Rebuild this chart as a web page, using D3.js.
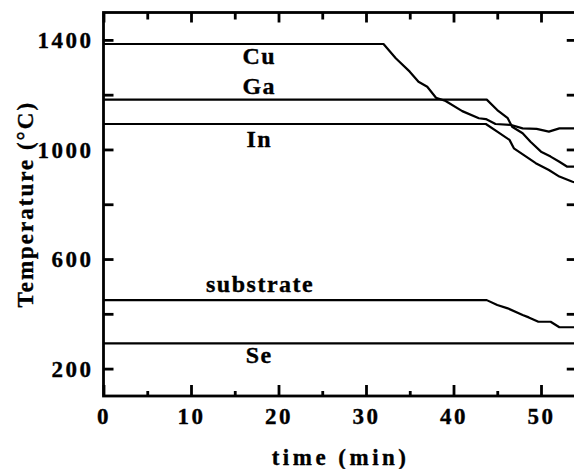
<!DOCTYPE html>
<html>
<head>
<meta charset="utf-8">
<script src="https://cdn.jsdelivr.net/npm/d3@7"></script>
<style>
  body { margin: 0; background: #fff; }
  svg text { font-family: "Liberation Serif", "Times New Roman", serif; font-weight: bold; fill: #000; stroke: #000; stroke-width: 0.35px; }
</style>
</head>
<body>
<div id="chart"></div>
<script>
// temperature profiles, [time (min), temperature (°C)]
const cuSeries = [[0, 1385], [32, 1385], [33.4, 1333], [35, 1284], [36, 1247], [37, 1229], [38, 1189],
  [39.1, 1177], [41, 1140], [42.9, 1114], [43.7, 1111], [44.8, 1093], [46.5, 1090], [47.9, 1077],
  [49.5, 1075], [50.9, 1065], [52.1, 1077], [54.2, 1077]];
const gaSeries = [[0, 1182], [43.8, 1182], [45, 1144], [46.2, 1114], [46.7, 1083], [47.9, 1059],
  [48.8, 1028], [50, 992], [51.1, 974], [52.1, 955], [53, 937], [54.2, 937]];
const inSeries = [[0, 1093], [43.7, 1093], [45, 1065], [46.4, 1035], [46.9, 1004], [48.3, 974],
  [49.4, 950], [50.9, 925], [52.1, 901], [53.6, 882], [54.2, 879]];
const substrateSeries = [[0, 450], [43.8, 450], [45, 432], [46.2, 420], [47.9, 396], [48.6, 387],
  [49.7, 371], [51.1, 371], [52.1, 351], [54.2, 351]];
const seSeries = [[0, 292], [54.2, 292]];

const seriesList = [cuSeries, gaSeries, inSeries, substrateSeries, seSeries];

// curve labels: name, time, temperature at baseline
const labelNames = ["Cu", "Ga", "In", "substrate", "Se"];
const labelTimes = [17.8, 17.8, 17.8, 17.9, 17.8];
const labelTemps = [1311, 1201, 1008, 481, 219];

const xTicks = [0, 5, 10, 15, 20, 25, 30, 35, 40, 45, 50];
const yTicks = [200, 400, 600, 800, 1000, 1200, 1400];
const yLabelTicks = [200, 600, 1000, 1400];

const width = 574, height = 469;

const svg = d3.select("#chart").append("svg")
  .attr("width", width)
  .attr("height", height);

const x = d3.scaleLinear().domain([0, 54.2]).range([103.5, 103.5 + 54.2 * 8.75]);
const y = d3.scaleLinear().domain([100, 1500]).range([396, 12.5]);

const plotLeft = x(0), plotRight = x(54.2), plotTop = y(1500), plotBottom = y(100);

// bottom axis
const xAxisBottom = d3.axisBottom(x)
  .tickValues(xTicks)
  .tickSizeOuter(0)
  .tickFormat(d => (d % 10 === 0 ? d : ""));
const gxb = svg.append("g")
  .attr("transform", `translate(0,${plotBottom})`)
  .call(xAxisBottom);
gxb.selectAll(".tick line")
  .attr("y2", d => (d % 10 === 0 ? -11 : -5))
  .attr("stroke-width", 2.8);
gxb.selectAll(".tick text")
  .attr("y", 28)
  .attr("dy", 0)
  .style("font-size", "23px")
  .style("letter-spacing", "2.5px");

// top axis (ticks only)
const gxt = svg.append("g")
  .attr("transform", `translate(0,${plotTop})`)
  .call(d3.axisTop(x).tickValues(xTicks).tickSizeOuter(0).tickFormat(""));
gxt.selectAll(".tick line")
  .attr("y2", d => (d % 10 === 0 ? 10 : 7))
  .attr("stroke-width", 2.8);

// left axis
const gyl = svg.append("g")
  .attr("transform", `translate(${plotLeft},0)`)
  .call(d3.axisLeft(y).tickValues(yTicks).tickSizeOuter(0)
    .tickFormat(d => (yLabelTicks.includes(d) ? d : "")));
gyl.selectAll(".tick line").attr("x2", 10).attr("stroke-width", 2.8);
gyl.selectAll(".tick text")
  .attr("x", -10)
  .attr("dy", "0.34em")
  .style("font-size", "23px")
  .style("letter-spacing", "2.5px");

// right axis (ticks only)
const gyr = svg.append("g")
  .attr("transform", `translate(${plotRight},0)`)
  .call(d3.axisRight(y).tickValues(yTicks).tickSizeOuter(0).tickFormat(""));
gyr.selectAll(".tick line").attr("x2", -11).attr("stroke-width", 2.8);

svg.selectAll(".domain").remove();
svg.selectAll("g text").attr("font-family", null).attr("font-size", null);

// frame
svg.append("rect")
  .attr("x", plotLeft)
  .attr("y", plotTop)
  .attr("width", plotRight - plotLeft)
  .attr("height", plotBottom - plotTop)
  .attr("fill", "none")
  .attr("stroke", "#000")
  .attr("stroke-width", 2.8);

// profile lines
const line = d3.line()
  .x(d => x(d[0]))
  .y(d => y(d[1]));

svg.append("g")
  .selectAll("path")
  .data(seriesList)
  .join("path")
  .attr("d", line)
  .attr("fill", "none")
  .attr("stroke", "#000")
  .attr("stroke-width", 2.2)
  .attr("stroke-linejoin", "round");

// curve labels
svg.append("g")
  .selectAll("text")
  .data(labelNames)
  .join("text")
  .attr("x", (d, i) => x(labelTimes[i]))
  .attr("y", (d, i) => y(labelTemps[i]))
  .attr("text-anchor", "middle")
  .style("font-size", "24px")
  .style("letter-spacing", "1.5px")
  .text(d => d);

// axis titles
svg.append("text")
  .attr("x", (plotLeft + plotRight) / 2)
  .attr("y", 465)
  .attr("text-anchor", "middle")
  .style("font-size", "23px")
  .style("letter-spacing", "3.5px")
  .text("time (min)");

svg.append("text")
  .attr("transform", `translate(33,${(plotTop + plotBottom) / 2}) rotate(-90)`)
  .attr("text-anchor", "middle")
  .style("font-size", "23px")
  .style("letter-spacing", "2px")
  .text("Temperature (°C)");
</script>
</body>
</html>
